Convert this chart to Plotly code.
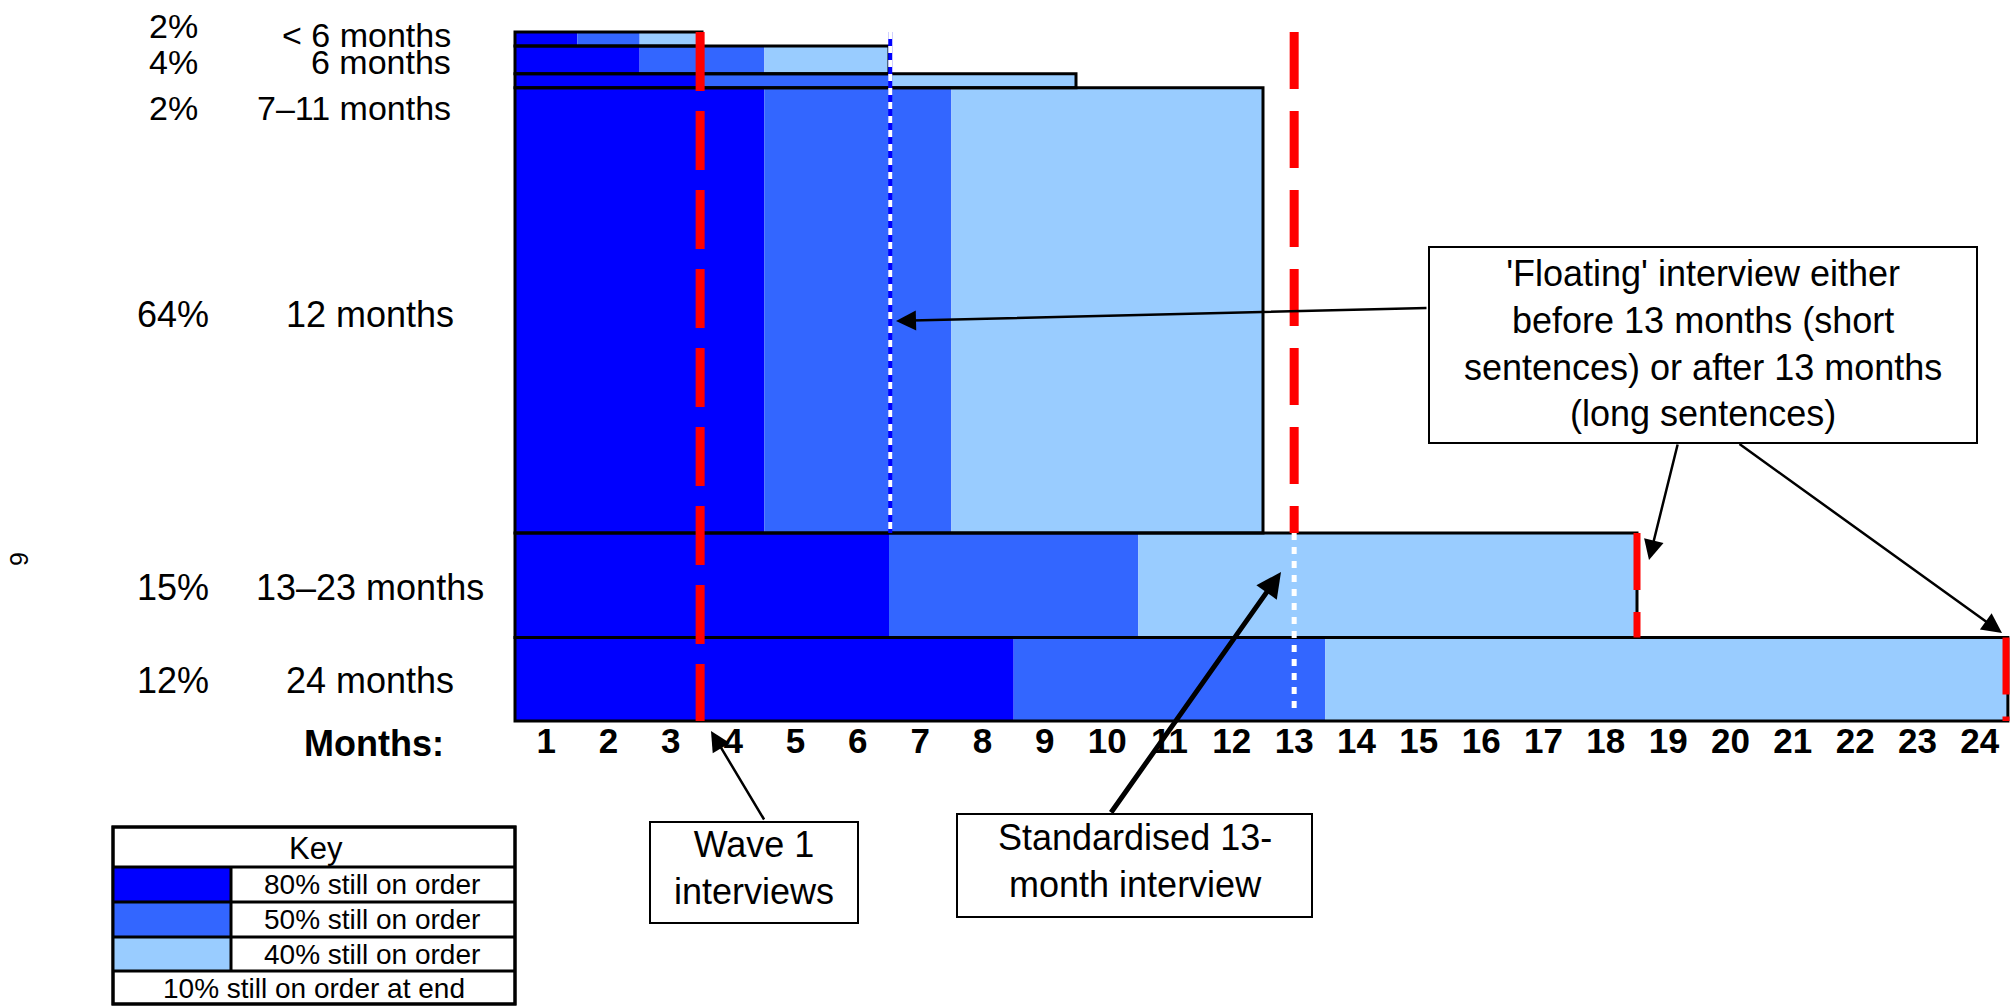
import plotly.graph_objects as go

# ---------------- data ----------------
rows = ["< 6 months", "6 months", "7–11 months", "12 months", "13–23 months", "24 months"]
shares = [2, 4, 2, 64, 15, 12]                     # % of sample in each sentence-length group
share_labels = ["2%", "4%", "2%", "64%", "15%", "12%"]
start_month = 0.5
end80 = [1.5, 2.5, 3.5, 4.5, 6.5, 8.5]             # end of "80% still on order" period
end50 = [2.5, 4.5, 6.5, 7.5, 10.5, 13.5]           # end of "50% still on order" period
end40 = [3.5, 6.5, 9.5, 12.5, 18.5, 24.45]         # end of "40% still on order" period (order end)
months = list(range(1, 25))
wave1_month = 3.47
floating_short_month = 6.52
standard_month = 13
floating_long_months = [18.5, 24.42]
key_labels = ["80% still on order", "50% still on order", "40% still on order"]
key_end_label = "10% still on order at end"

# ---------------- layout constants ----------------
W, H = 2011, 1006
ML, MR, MT, MB = 502, 0, 28, 282
FONT = "Liberation Sans, Arial, sans-serif"
C80, C50, C40 = "#0000FF", "#3366FF", "#99CCFF"
RED = "#FF0000"

def fx(px):
    return (px - ML) / (W - ML - MR)

def fy(py):
    return (H - MB - py) / (H - MT - MB)

# y positions (stacked by share, top row first)
total = sum(shares)
bottoms = [sum(shares[i + 1:]) for i in range(len(shares))]
centers = [b + s / 2 for b, s in zip(bottoms, shares)]
tops = [b + s for b, s in zip(bottoms, shares)]

fig = go.Figure()
len80 = [e - start_month for e in end80]
len50 = [b - a for a, b in zip(end80, end50)]
len40 = [b - a for a, b in zip(end50, end40)]
fig.add_trace(go.Bar(orientation="h", y=centers, x=len80, base=[start_month] * 6, width=shares,
                     marker=dict(color=C80, line=dict(width=0)), showlegend=False))
fig.add_trace(go.Bar(orientation="h", y=centers, x=len50, base=end80, width=shares,
                     marker=dict(color=C50, line=dict(width=0)), showlegend=False))
fig.add_trace(go.Bar(orientation="h", y=centers, x=len40, base=end50, width=shares,
                     marker=dict(color=C40, line=dict(width=0)), showlegend=False))
fig.add_trace(go.Bar(orientation="h", y=centers, x=[e - start_month for e in end40],
                     base=[start_month] * 6, width=shares,
                     marker=dict(color="rgba(0,0,0,0)", line=dict(width=3, color="black")),
                     showlegend=False))

shapes = []
# wave 1 line
shapes.append(dict(type="line", xref="x", yref="y", x0=wave1_month, x1=wave1_month,
                   y0=total, y1=0, line=dict(color=RED, width=9, dash="59px,20px")))
# floating short (blue + white dotted)
shapes.append(dict(type="line", xref="x", yref="y", x0=floating_short_month, x1=floating_short_month,
                   y0=total, y1=bottoms[3], line=dict(color=C80, width=4)))
shapes.append(dict(type="line", xref="x", yref="y", x0=floating_short_month, x1=floating_short_month,
                   y0=total, y1=bottoms[3], line=dict(color="white", width=4, dash="7px,7px")))
# standard 13 month line
shapes.append(dict(type="line", xref="x", yref="y", x0=standard_month, x1=standard_month,
                   y0=total, y1=bottoms[3], line=dict(color=RED, width=9, dash="57px,22px")))
shapes.append(dict(type="line", xref="x", yref="y", x0=standard_month, x1=standard_month,
                   y0=bottoms[3], y1=1.2, line=dict(color="white", width=5, dash="7px,7px")))
# floating long lines
shapes.append(dict(type="line", xref="x", yref="y", x0=floating_long_months[0], x1=floating_long_months[0],
                   y0=tops[4], y1=bottoms[4], line=dict(color=RED, width=7, dash="57px,22px")))
shapes.append(dict(type="line", xref="x", yref="y", x0=floating_long_months[1], x1=floating_long_months[1],
                   y0=tops[5], y1=bottoms[5], line=dict(color=RED, width=7, dash="57px,22px")))

def rect(x0, y0, x1, y1, lw=2, fill="white"):
    return dict(type="rect", xref="paper", yref="paper", x0=fx(x0), x1=fx(x1), y0=fy(y0), y1=fy(y1),
                line=dict(color="black", width=lw), fillcolor=fill, layer="above")

def hline(x0, x1, y, lw=3):
    return dict(type="line", xref="paper", yref="paper", x0=fx(x0), x1=fx(x1), y0=fy(y), y1=fy(y),
                line=dict(color="black", width=lw))

def vline(x, y0, y1, lw=3):
    return dict(type="line", xref="paper", yref="paper", x0=fx(x), x1=fx(x), y0=fy(y0), y1=fy(y1),
                line=dict(color="black", width=lw))

# key table
shapes.append(rect(113, 827, 515, 1004, lw=3))
key_rows = [(867, 902), (902, 937), (937, 971)]
for (a, b), c in zip(key_rows, [C80, C50, C40]):
    s = rect(113, a, 231, b, lw=0, fill=c)
    s["line"] = dict(width=0)
    shapes.append(s)
for yy in [867, 902, 937, 971]:
    shapes.append(hline(113, 515, yy))
shapes.append(vline(231, 867, 971))
shapes.append(rect(113, 827, 515, 1004, lw=3, fill="rgba(0,0,0,0)"))

# callout boxes
shapes.append(rect(650, 822, 858, 923))
shapes.append(rect(957, 814, 1312, 917))
shapes.append(rect(1429, 247, 1977, 443))

ann = []
def text(x, y, t, size=36, xanchor="center", bold=False, angle=0):
    ann.append(dict(xref="paper", yref="paper", x=fx(x), y=fy(y), text=t, showarrow=False,
                    xanchor=xanchor, yanchor="middle", textangle=angle,
                    font=dict(family=FONT, size=size, color="black", weight="bold" if bold else "normal")))

pct_y = [26, 62, 108, 314, 587, 680]
cat_y = [35, 62, 108, 314, 587, 680]
for i in range(len(rows)):
    fs = 34 if i < 3 else 36
    text(173, pct_y[i], share_labels[i], size=fs)
    if i < 3:
        text(453, cat_y[i], rows[i], xanchor="right", size=fs)
    else:
        text(370, cat_y[i], rows[i], size=fs)
text(374, 743, "Months:", size=36, bold=True)
text(19, 559, "9", size=25, angle=-90)

# key text
text(316, 848, "Key", size=31)
for (a, b), lab in zip(key_rows, key_labels):
    text(372, (a + b) / 2, lab, size=28)
text(314, 988, key_end_label, size=28)

# callout text
text(754, 868, "Wave 1<br>interviews", size=36)
text(1135, 861, "Standardised 13-<br>month interview", size=36)
text(1703, 344, "'Floating' interview either<br>before 13 months (short<br>sentences) or after 13 months<br>(long sentences)", size=36)

def arrow(tip, tail, width=2.5, size=1.6):
    ann.append(dict(xref="paper", yref="paper", x=fx(tip[0]), y=fy(tip[1]), ax=tail[0] - tip[0],
                    ay=tail[1] - tip[1], text="", showarrow=True, arrowhead=2, arrowsize=size,
                    arrowwidth=width, arrowcolor="black"))

arrow((711, 731), (765, 821))
arrow((1281, 572), (1110, 814), width=5, size=1.0)
arrow((896, 321), (1428, 308))
arrow((1649, 560), (1678, 443))
arrow((2002, 633), (1738, 443))

fig.update_layout(
    width=W, height=H, margin=dict(l=ML, r=MR, t=MT, b=MB, pad=0),
    paper_bgcolor="white", plot_bgcolor="white", barmode="overlay",
    shapes=shapes, annotations=ann, showlegend=False,
    xaxis=dict(range=[0.2914, 24.5], tickmode="array", tickvals=months, ticktext=[str(m) for m in months],
               showgrid=False, zeroline=False, showline=False, ticks="", ticklabelstandoff=-7,
               tickfont=dict(family=FONT, size=35, color="black", weight="bold")),
    yaxis=dict(range=[-0.431, 99.575], visible=False, showgrid=False, zeroline=False),
)
fig.write_html("out.html", config={"displayModeBar": False},
               post_script="document.body.style.margin='0';document.body.style.overflow='hidden';")
